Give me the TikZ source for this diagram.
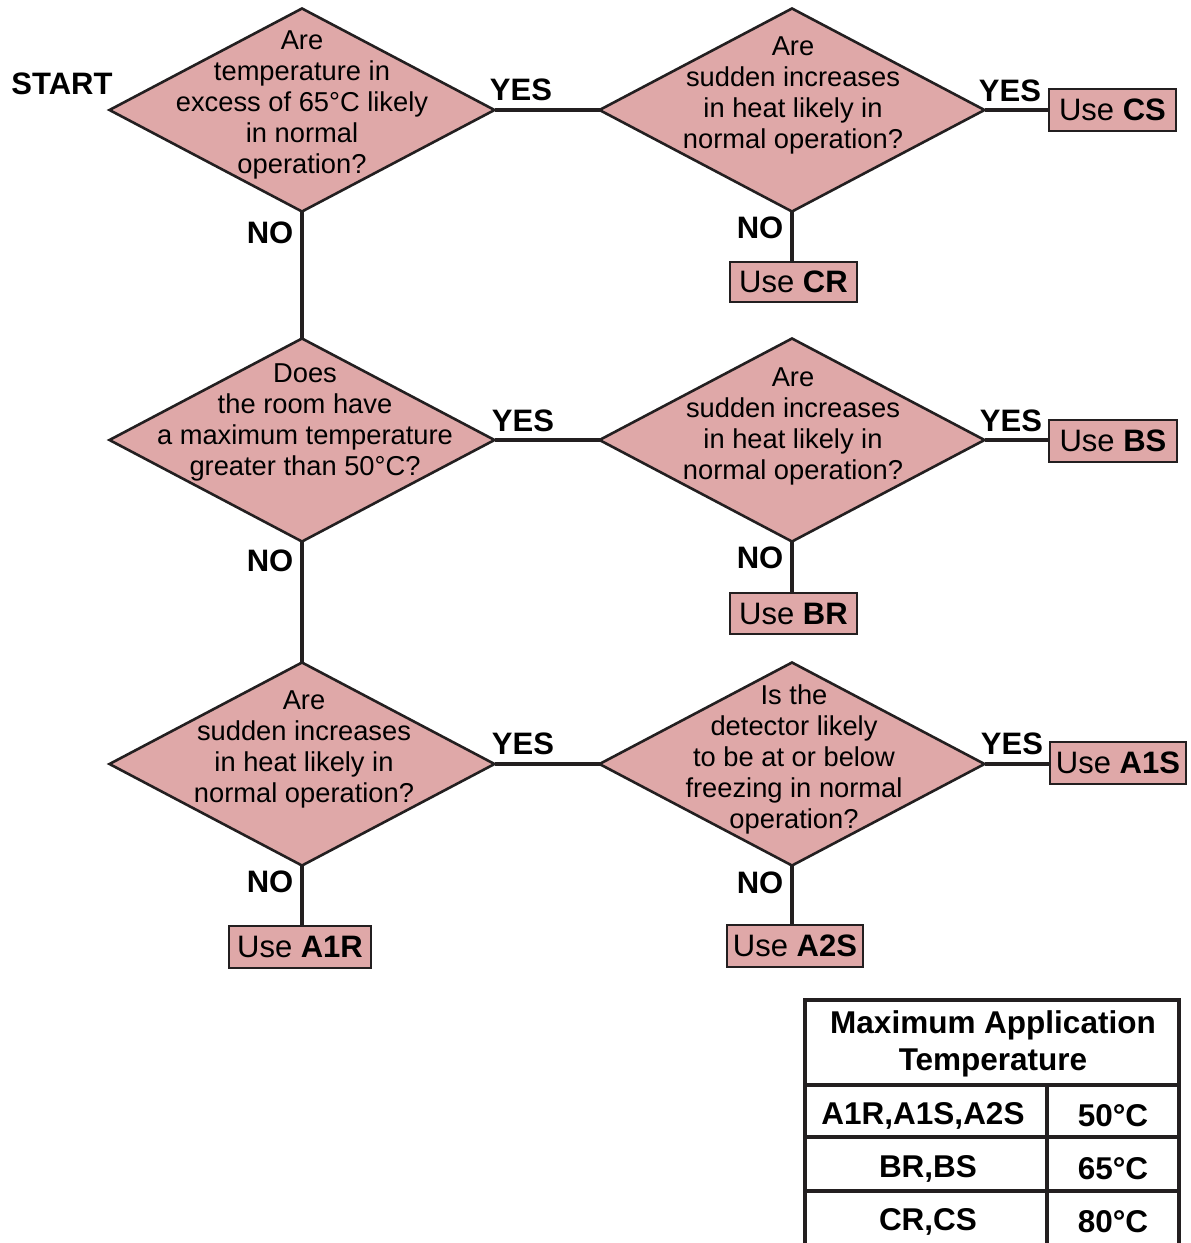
\documentclass[tikz,border=0pt]{standalone}
\usepackage{fontspec}
\setmainfont{Liberation Sans}
\usetikzlibrary{shapes.geometric}
\definecolor{pinkfill}{RGB}{223,168,168}
\definecolor{inkline}{RGB}{35,31,32}
\tikzset{
  dia/.style={diamond, draw=inkline, fill=pinkfill, line width=2.6pt, minimum width=385pt, minimum height=203pt, inner sep=0pt, outer sep=0pt},
  dtext/.style={align=center, inner sep=0pt, font=\fontsize{27.3}{31}\selectfont},
  usebox/.style={rectangle, draw=inkline, fill=pinkfill, line width=2.4pt, inner sep=0pt, outer sep=0pt, minimum height=42pt, font=\fontsize{31}{36}\selectfont},
  lab/.style={inner sep=0pt, font=\fontsize{31}{36}\selectfont\bfseries},
  conn/.style={draw=inkline, line width=3.6pt},
  tline/.style={draw=inkline, line width=3.6pt},
  ttext/.style={inner sep=0pt, font=\fontsize{31.5}{38}\selectfont\bfseries, align=center}
}
\begin{document}
\begin{tikzpicture}[x=1pt,y=-1pt]
\useasboundingbox (0,0) rectangle (1191,1243);
\fill[white] (0,0) rectangle (1191,1243);

% diamonds
\node[dia] (d1) at (302,110) {};
\node[dia] (d2) at (792,110) {};
\node[dia] (d3) at (302,440) {};
\node[dia] (d4) at (792,440) {};
\node[dia] (d5) at (302,764) {};
\node[dia] (d6) at (792,764) {};

% result boxes
\node[usebox, minimum width=127pt] (cs) at (1112.5,110) {Use \textbf{CS}};
\node[usebox, minimum width=127pt, minimum height=40pt] (cr) at (793.5,282) {Use \textbf{CR}};
\node[usebox, minimum width=128pt] (bs) at (1113,441) {Use \textbf{BS}};
\node[usebox, minimum width=127pt, minimum height=41pt] (br) at (793.5,613.5) {Use \textbf{BR}};
\node[usebox, minimum width=136pt] (a1s) at (1118,763) {Use \textbf{A1S}};
\node[usebox, minimum width=136pt] (a2s) at (795,946) {Use \textbf{A2S}};
\node[usebox, minimum width=142pt] (a1r) at (300,947) {Use \textbf{A1R}};

% connectors
\draw[conn] (d1.east) -- (d2.west);
\draw[conn] (d2.east) -- (cs.west |- d2.east);
\draw[conn] (d2.south) -- (d2.south |- cr.north);
\draw[conn] (d1.south) -- (d3.north);
\draw[conn] (d3.east) -- (d4.west);
\draw[conn] (d4.east) -- (bs.west |- d4.east);
\draw[conn] (d4.south) -- (d4.south |- br.north);
\draw[conn] (d3.south) -- (d5.north);
\draw[conn] (d5.east) -- (d6.west);
\draw[conn] (d6.east) -- (a1s.west |- d6.east);
\draw[conn] (d6.south) -- (d6.south |- a2s.north);
\draw[conn] (d5.south) -- (d5.south |- a1r.north);

% diamond texts
\node[dtext] (t1) at (302,105) {Are\\temperature in\\excess of 65°C likely\\in normal\\operation?};
\node[dtext] (t2) at (793,95.5) {Are\\sudden increases\\in heat likely in\\normal operation?};
\node[dtext] (t3) at (305,422.5) {Does\\the room have\\a maximum temperature\\greater than 50°C?};
\node[dtext] (t4) at (793,426) {Are\\sudden increases\\in heat likely in\\normal operation?};
\node[dtext] (t5) at (304,749) {Are\\sudden increases\\in heat likely in\\normal operation?};
\node[dtext] (t6) at (794,759.5) {Is the\\detector likely\\to be at or below\\freezing in normal\\operation?};

% labels
\node[lab] (start) at (62,84) {START};
\node[lab] (y1) at (521,90) {YES};
\node[lab] (y2) at (1010,91) {YES};
\node[lab] (y3) at (523,421) {YES};
\node[lab] (y4) at (1011,421) {YES};
\node[lab] (y5) at (523,744) {YES};
\node[lab] (y6) at (1012,744) {YES};
\node[lab] (n1) at (270,233) {NO};
\node[lab] (n2) at (760,228) {NO};
\node[lab] (n3) at (270,561) {NO};
\node[lab] (n4) at (760,558) {NO};
\node[lab] (n5) at (270,882) {NO};
\node[lab] (n6) at (760,883) {NO};

% table
\draw[tline] (805,1243) -- (805,1000) -- (1179,1000) -- (1179,1243);
\draw[tline] (805,1085) -- (1179,1085);
\draw[tline] (805,1137) -- (1179,1137);
\draw[tline] (805,1191) -- (1179,1191);
\draw[tline] (1047,1085) -- (1047,1243);
\node[ttext] (th1) at (993,1025) {Maximum Application};
\node[ttext] (th2) at (993,1063) {Temperature};
\node[ttext] (r1a) at (923,1116) {A1R,A1S,A2S};
\node[ttext] (r1b) at (1113,1116) {50°C};
\node[ttext] (r2a) at (928,1169) {BR,BS};
\node[ttext] (r2b) at (1113,1169) {65°C};
\node[ttext] (r3a) at (928,1222) {CR,CS};
\node[ttext] (r3b) at (1113,1222) {80°C};
\end{tikzpicture}
\end{document}
